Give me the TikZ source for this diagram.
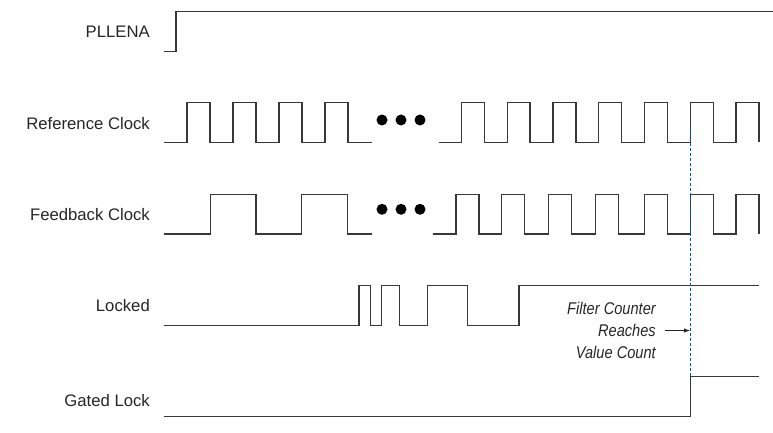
\documentclass[tikz,border=0pt]{standalone}
\usepackage{fontspec}
\setmainfont{Liberation Sans}
\newfontfamily\condit[FakeStretch=0.86]{Liberation Sans Italic}
\usetikzlibrary{arrows.meta}
\begin{document}
\begin{tikzpicture}[x=1pt,y=-1pt,
  wave/.style={line width=1.3pt,color=black!78,line join=miter},
  lbl/.style={anchor=base east,inner sep=0pt,font=\fontsize{16.7}{20}\selectfont,text=black!85},
  note/.style={anchor=base east,inner sep=0pt,font=\condit\fontsize{17}{20}\selectfont,text=black!85},
  dotmark/.style={fill=black},
  guide/.style={dashed,dash pattern=on 3pt off 2pt,line width=0.9pt,color=blue!60!cyan!80!black}]
\useasboundingbox (0,0) rectangle (773,433);
% labels
\node[lbl] (lpll) at (150,37.3) {PLLENA};
\node[lbl] (lref) at (150,129.3) {Reference Clock};
\node[lbl] (lfb) at (150,220.7) {Feedback Clock};
\node[lbl] (llock) at (150,311.7) {Locked};
\node[lbl] (lgate) at (150,406) {Gated Lock};
% PLLENA
\draw[wave] (164,51.7) -- (176,51.7) -- (176,11.7) -- (773,11.7);
% Reference clock
\def\rl{142.3}\def\rh{102.7}
\draw[wave] (164,\rl)
  foreach \a/\b in {187/210,233/256,279/302,325/348}{ -- (\a,\rl) -- (\a,\rh) -- (\b,\rh) -- (\b,\rl)} -- (372,\rl);
\draw[wave] (438.5,\rl)
  foreach \a/\b in {461.7/484.3,507.3/530,553/576,598.7/621.7,644.3/667.3,690.3/713.3,736/759}{ -- (\a,\rl) -- (\a,\rh) -- (\b,\rh) -- (\b,\rl)};
% Feedback clock
\def\fl{234}\def\fh{194.3}
\draw[wave] (164,\fl)
  foreach \a/\b in {210.3/256,301.7/347.3}{ -- (\a,\fl) -- (\a,\fh) -- (\b,\fh) -- (\b,\fl)} -- (372,\fl);
\draw[wave] (432.7,\fl)
  foreach \a/\b in {456/479,501.7/524.7,548.3/571.3,595.3/618.3,644.3/667.3,690.3/713.3,736/759}{ -- (\a,\fl) -- (\a,\fh) -- (\b,\fh) -- (\b,\fl)};
% dots
\foreach \x in {382,401,420}{
  \fill[dotmark] (\x,120) circle (5.5);
  \fill[dotmark] (\x,209.3) circle (5.5);
}
% Locked
\def\ll{325.3}\def\lh{285.3}
\draw[wave] (164,\ll)
  foreach \a/\b in {359/370.3,381.7/399.3,427.7/467.3}{ -- (\a,\ll) -- (\a,\lh) -- (\b,\lh) -- (\b,\ll)}
  -- (519,\ll) -- (519,\lh) -- (759.3,\lh);
% Gated lock
\draw[wave] (164,416.7) -- (690.3,416.7) -- (690.3,376.7) -- (759.3,376.7);
% guide line
\coordinate (gtop) at (690.5,128);
\coordinate (gbot) at (690.5,376.7);
\draw[guide] (gtop) -- (gbot);
% note
\node[note] (n1) at (656,314) {Filter Counter};
\node[note] (n2) at (656,336) {Reaches};
\node[note] (n3) at (656,358.3) {Value Count};
\coordinate (atip) at (690,330.5);
\draw[line width=0.8pt,black!85,-{Latex[length=6pt,width=4.5pt]}] (665,330.5) -- (atip);
\end{tikzpicture}
\end{document}
